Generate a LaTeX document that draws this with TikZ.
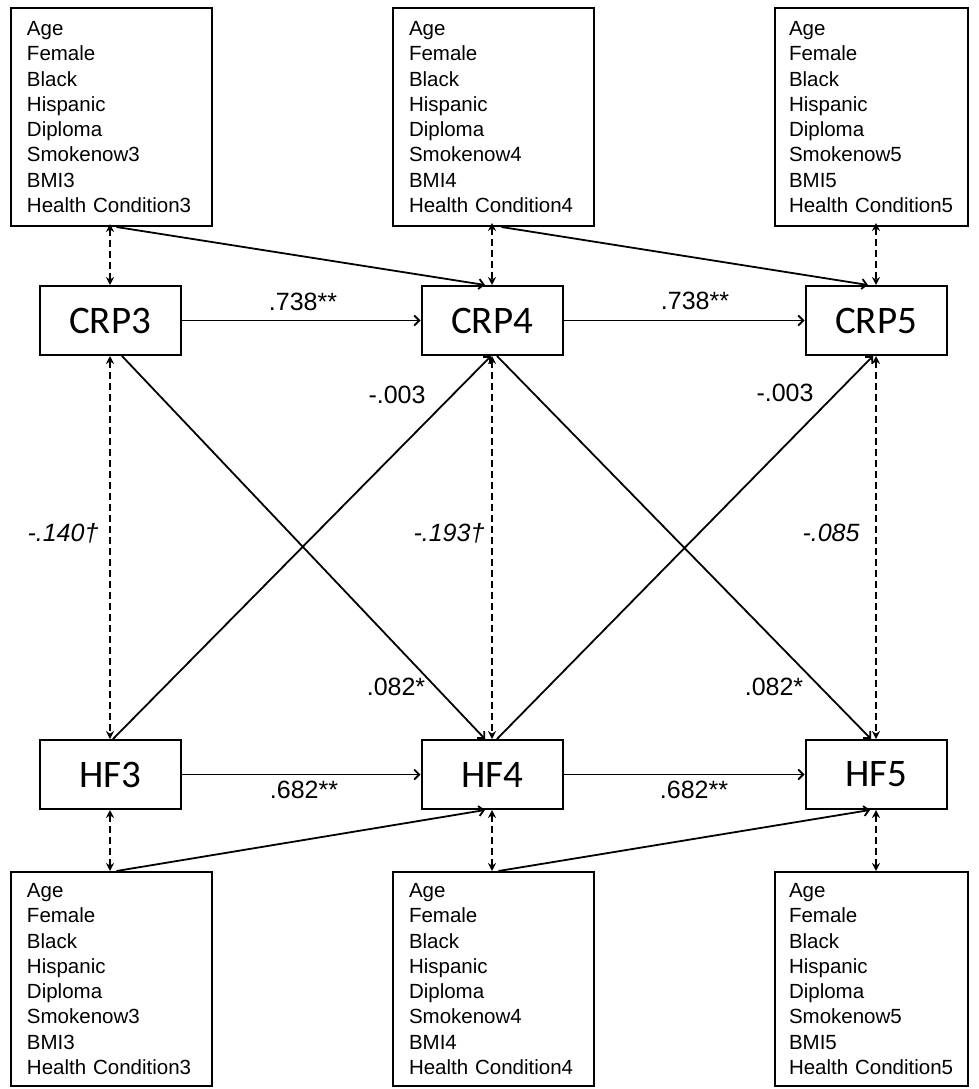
\documentclass[tikz,border=0pt]{standalone}
\usepackage{fontspec}
\setmainfont{Liberation Sans}
\newfontfamily\boxfont{Carlito}
\usetikzlibrary{arrows.meta,calc}
\begin{document}
\begin{tikzpicture}[x=1pt,y=-1pt,
  covbox/.style={draw,line width=2pt,anchor=north west,inner xsep=16pt,inner ysep=0pt,
    align=left,font=\fontsize{20.5}{25.3}\selectfont},
  latbox/.style={draw,line width=2pt,minimum width=141pt,minimum height=69pt,inner sep=0pt,
    font=\boxfont\fontsize{39}{40}\selectfont},
  path/.style={line width=1.8pt,-{Straight Barb[length=5pt,width=10pt,line width=1.8pt]}},
  cov/.style={line width=2pt,dash pattern=on 7pt off 4pt,
    {Stealth[length=8pt,width=8pt]}-{Stealth[length=8pt,width=8pt]}},
  coef/.style={font=\fontsize{25}{28}\selectfont,inner sep=0pt},
  icoef/.style={font=\itshape\fontsize{25}{28}\selectfont,inner sep=0pt}]
\useasboundingbox (0,0) rectangle (978,1089);
\fill[white] (0,0) rectangle (978,1089);

% covariate boxes (top)
\node[covbox,minimum width=201pt,minimum height=218pt,text width=169pt] (tl) at (10,7)
  {Age\\Female\\Black\\Hispanic\\Diploma\\Smokenow3\\BMI3\\Health Condition3};
\node[covbox,minimum width=201pt,minimum height=218pt,text width=169pt] (tm) at (392,7)
  {Age\\Female\\Black\\Hispanic\\Diploma\\Smokenow4\\BMI4\\Health Condition4};
\node[covbox,minimum width=193pt,minimum height=218pt,text width=165pt,inner xsep=14pt] (tr) at (774,7)
  {Age\\Female\\Black\\Hispanic\\Diploma\\Smokenow5\\BMI5\\Health Condition5};
% covariate boxes (bottom)
\node[covbox,minimum width=201pt,minimum height=214pt,text width=169pt] (bl) at (10,871)
  {Age\\Female\\Black\\Hispanic\\Diploma\\Smokenow3\\BMI3\\Health Condition3};
\node[covbox,minimum width=201pt,minimum height=214pt,text width=169pt] (bm) at (392,871)
  {Age\\Female\\Black\\Hispanic\\Diploma\\Smokenow4\\BMI4\\Health Condition4};
\node[covbox,minimum width=193pt,minimum height=214pt,text width=165pt,inner xsep=14pt] (br) at (774,871)
  {Age\\Female\\Black\\Hispanic\\Diploma\\Smokenow5\\BMI5\\Health Condition5};

% variables
\node[latbox] (crp3) at (110,320.5) {CRP3};
\node[latbox] (crp4) at (492,320.5) {CRP4};
\node[latbox] (crp5) at (876,320.5) {CRP5};
\node[latbox] (hf3) at (110,774.5) {HF3};
\node[latbox] (hf4) at (492,774.5) {HF4};
\node[latbox] (hf5) at (876,774.5) {HF5};

% covariances (dashed)
\draw[cov] ($(crp3.north)+(0,-61)$) -- (crp3.north);
\draw[cov] ($(crp4.north)+(0,-62)$) -- (crp4.north);
\draw[cov] ($(crp5.north)+(0,-62)$) -- (crp5.north);
\draw[cov] (crp3.south) -- (hf3.north);
\draw[cov] (crp4.south) -- (hf4.north);
\draw[cov] (crp5.south) -- (hf5.north);
\draw[cov] (hf3.south) -- (hf3.south |- bl.north);
\draw[cov] (hf4.south) -- (hf4.south |- bm.north);
\draw[cov] (hf5.south) -- (hf5.south |- br.north);

% covariate effects
\draw[path] ($(tl.south)+(5,0)$) -- ($(crp4.north)+(-7,0)$);
\draw[path] ($(tm.south)+(8,0)$) -- ($(crp5.north)+(-8,0)$);
\draw[path] ($(bl.north)+(5,0)$) -- ($(hf4.south)+(-7,0)$);
\draw[path] ($(bm.north)+(5,0)$) -- ($(hf5.south)+(-6,0)$);

% autoregressive paths
\draw[path] (crp3.east) -- (crp4.west);
\draw[path] (crp4.east) -- (crp5.west);
\draw[path] (hf3.east) -- (hf4.west);
\draw[path] (hf4.east) -- (hf5.west);

% cross-lagged paths
\draw[path] ($(crp3.south)+(12,0)$) -- ($(hf4.north)+(-7,0)$);
\draw[path] ($(hf3.north)+(3,0)$) -- ($(crp4.south)+(-1,0)$);
\draw[path] ($(crp4.south)+(5,0)$) -- ($(hf5.north)+(-5,0)$);
\draw[path] ($(hf4.north)+(5,0)$) -- ($(crp5.south)+(-3,0)$);

% coefficients
\node[coef] (c1) at (303,302) {.738**};
\node[coef] (c2) at (695,301) {.738**};
\node[coef] (c3) at (397,395) {-.003};
\node[coef] (c4) at (785,393) {-.003};
\node[icoef] (c5) at (63,533) {-.140†};
\node[icoef] (c6) at (449,533) {-.193†};
\node[icoef] (c7) at (831,533) {-.085};
\node[coef] (c8) at (396,687) {.082*};
\node[coef] (c9) at (774,687) {.082*};
\node[coef] (c10) at (304,790) {.682**};
\node[coef] (c11) at (694,790) {.682**};
\end{tikzpicture}
\end{document}
